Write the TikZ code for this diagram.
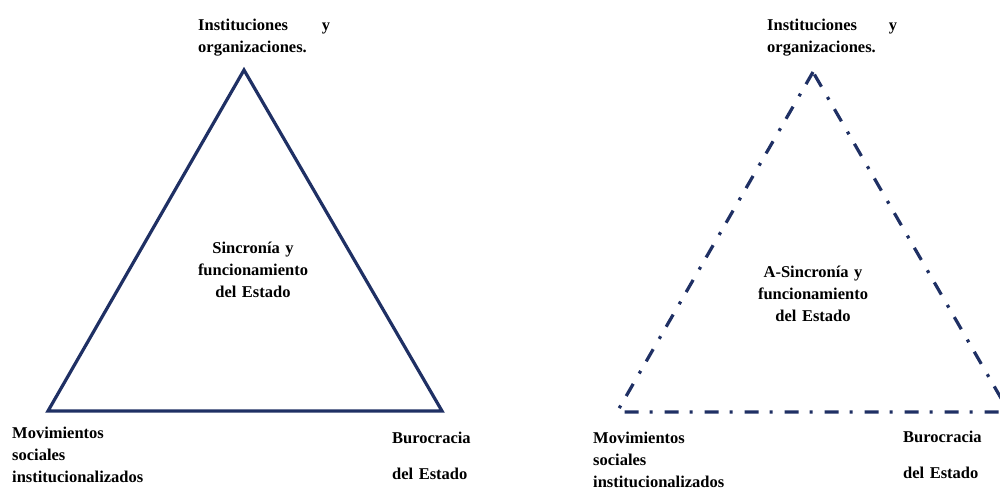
\documentclass[tikz,border=0pt]{standalone}
\usepackage{fontspec}
\setmainfont{Liberation Serif}
\definecolor{navy}{RGB}{31,48,100}
\begin{document}
\begin{tikzpicture}[x=1pt,y=-1pt,
  edge/.style={draw=navy,line width=3.2pt,line join=miter},
  dashdot/.style={edge,dash pattern=on 14pt off 11pt on 3pt off 12pt},
  lbl/.style={inner sep=0pt,font=\fontsize{16.5}{22}\selectfont\bfseries,text=black},
]
\useasboundingbox (0,0) rectangle (1000,488);
\clip (0,0) rectangle (1000,488);
% left triangle
\coordinate (LA) at (244,70);
\coordinate (LB) at (48,411);
\coordinate (LC) at (442,411);
\draw[edge] (LA) -- (LB) -- (LC) -- cycle;
% right triangle
\coordinate (RA) at (813,72);
\coordinate (RB) at (617,412);
\coordinate (RC) at (1009,412);
\draw[dashdot] (RA) -- (RB) -- (RC) -- cycle;
% labels left
\node[lbl,anchor=base west,text width=132pt,align=left] (lt) at (198,30) {Instituciones\hfill y\\organizaciones.};
\node[lbl,anchor=base,text width=160pt,align=center] (lc) at (253,253) {Sincronía y\\funcionamiento\\del Estado};
\node[lbl,anchor=base west,text width=170pt,align=left] (lb) at (12,438) {Movimientos\\sociales\\institucionalizados};
\node[lbl,anchor=base west,text width=100pt,align=left] (lr) at (392,443) {Burocracia\\[14pt]del Estado};
% labels right
\node[lbl,anchor=base west,text width=130pt,align=left] (rt) at (767,30) {Instituciones\hfill y\\organizaciones.};
\node[lbl,anchor=base,text width=160pt,align=center] (rc) at (813,277) {A-Sincronía y\\funcionamiento\\del Estado};
\node[lbl,anchor=base west,text width=170pt,align=left] (rb) at (593,443) {Movimientos\\sociales\\institucionalizados};
\node[lbl,anchor=base west,text width=100pt,align=left] (rr) at (903,442) {Burocracia\\[14pt]del Estado};
\end{tikzpicture}
\end{document}
